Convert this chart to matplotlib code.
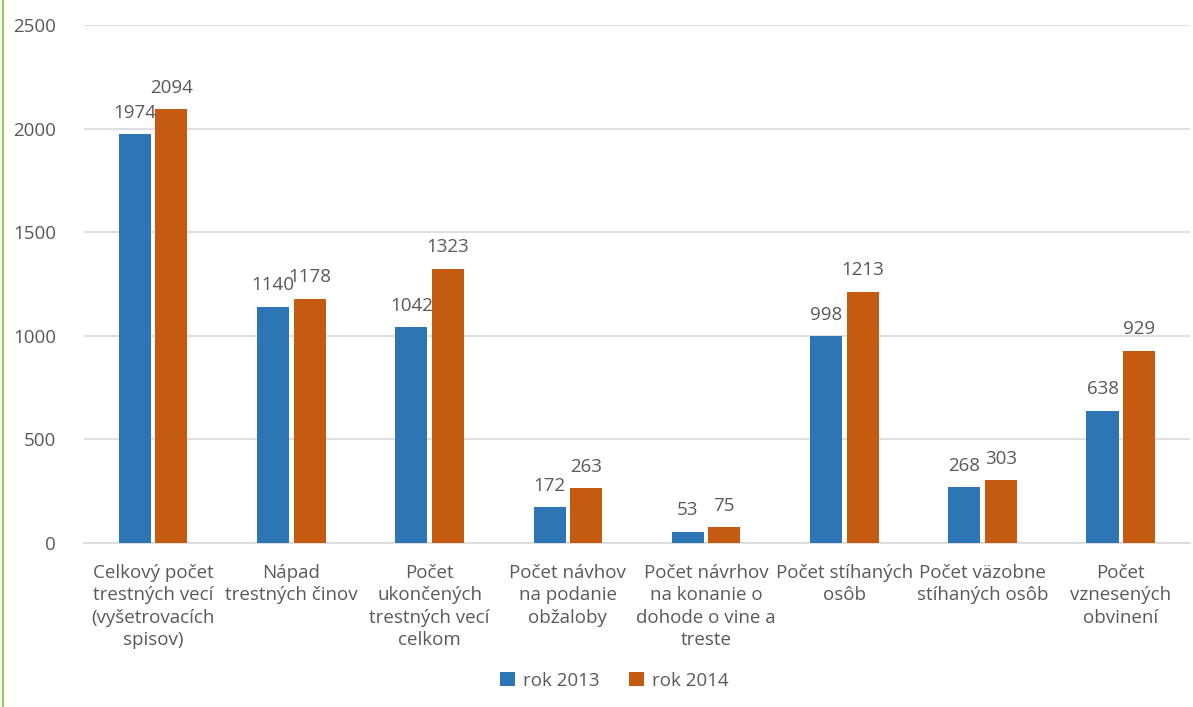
import matplotlib
matplotlib.use("Agg")
import matplotlib.pyplot as plt
import numpy as np
from matplotlib.lines import Line2D

categories = [
    "Celkový počet\ntrestných vecí\n(vyšetrovacích\nspisov)",
    "Nápad\ntrestných činov",
    "Počet\nukončených\ntrestných vecí\ncelkom",
    "Počet návhov\nna podanie\nobžaloby",
    "Počet návrhov\nna konanie o\ndohode o vine a\ntreste",
    "Počet stíhaných\nosôb",
    "Počet väzobne\nstíhaných osôb",
    "Počet\nvznesených\nobvinení",
]
rok_2013 = [1974, 1140, 1042, 172, 53, 998, 268, 638]
rok_2014 = [2094, 1178, 1323, 263, 75, 1213, 303, 929]
series_names = ["rok 2013", "rok 2014"]
yticks = [0, 500, 1000, 1500, 2000, 2500]

plt.rcParams['font.family'] = ['Open Sans', 'DejaVu Sans']
text_color = "#595959"
c1 = "#2E75B6"
c2 = "#C55A11"
fs = 13.5

fig = plt.figure(figsize=(11.93, 7.07), dpi=100)
ax = fig.add_axes([0.0704, 0.232, 0.927, 0.7326])

x = np.arange(len(categories))
w = 0.232
gap = 0.016
b1 = ax.bar(x - w/2 - gap, rok_2013, width=w, color=c1, label=series_names[0], zorder=3)
b2 = ax.bar(x + w/2 + gap, rok_2014, width=w, color=c2, label=series_names[1], zorder=3)

for bars, vals in ((b1, rok_2013), (b2, rok_2014)):
    for rect, v in zip(bars, vals):
        ax.annotate(str(v), (rect.get_x() + rect.get_width()/2, v),
                    xytext=(0, 9), textcoords="offset points",
                    ha="center", va="bottom", fontsize=fs, color=text_color)

ax.set_xlim(-0.5, len(categories) - 0.5)
ax.set_ylim(0, 2500)
ax.set_yticks(yticks)
ax.set_yticklabels([str(t) for t in yticks])
ax.yaxis.grid(True, color="#D9D9D9", linewidth=1.2, zorder=0)
ax.set_axisbelow(True)
for s in ("top", "right", "left"):
    ax.spines[s].set_visible(False)
ax.spines["bottom"].set_color("#D9D9D9")
ax.spines["bottom"].set_linewidth(1.2)
ax.tick_params(axis="y", length=0, labelsize=fs, labelcolor=text_color, pad=20)
ax.tick_params(axis="x", length=0, labelsize=fs, labelcolor=text_color, pad=15)
ax.set_xticks(x)
ax.set_xticklabels(categories, linespacing=1.32)

leg = fig.legend(handles=[b1, b2], labels=series_names, loc="center",
                 bbox_to_anchor=(0.515, 0.037), ncol=2, frameon=False,
                 fontsize=fs, handlelength=0.8, handleheight=0.8,
                 handletextpad=0.4, columnspacing=1.6)
for t in leg.get_texts():
    t.set_color(text_color)

fig.add_artist(Line2D([0.0029, 0.0029], [0, 1], transform=fig.transFigure,
                      color="#92D050", linewidth=1.5))

fig.savefig("out.png", dpi=100)
